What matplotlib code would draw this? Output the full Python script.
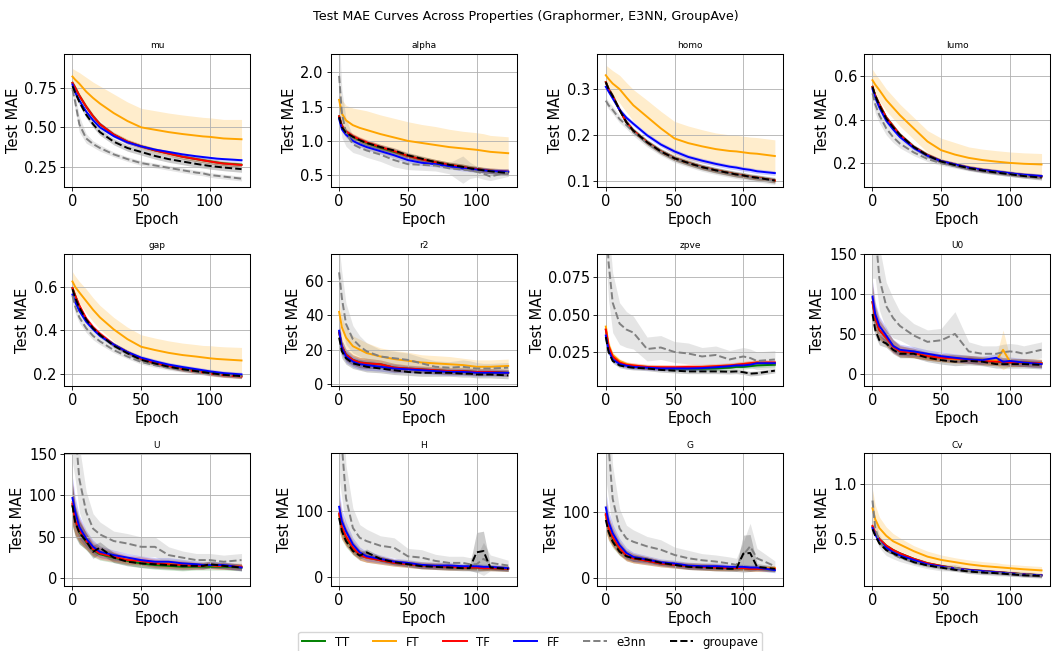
import numpy as np
import matplotlib
matplotlib.use("Agg")
import matplotlib.pyplot as plt

epochs = [0, 2, 5, 10, 15, 20, 30, 40, 50, 60, 70, 80, 90, 95, 100, 105, 110, 123]

series = ["TT", "FT", "TF", "FF", "e3nn", "groupave"]
colors = {"TT": "green", "FT": "orange", "TF": "red", "FF": "blue",
          "e3nn": "gray", "groupave": "black"}
styles = {"TT": "-", "FT": "-", "TF": "-", "FF": "-", "e3nn": "--", "groupave": "--"}

props = ["mu", "alpha", "homo", "lumo", "gap", "r2", "zpve", "U0", "U", "H", "G", "Cv"]

# ---- mu
mu_mean = {
    "TT": [0.78, 0.75, 0.70, 0.63, 0.57, 0.52, 0.455, 0.41, 0.38, 0.355, 0.335, 0.315, 0.30, 0.293, 0.286, 0.279, 0.273, 0.265],
    "FT": [0.82, 0.80, 0.775, 0.725, 0.685, 0.65, 0.59, 0.54, 0.50, 0.485, 0.47, 0.458, 0.448, 0.443, 0.44, 0.435, 0.43, 0.425],
    "TF": [0.78, 0.75, 0.70, 0.63, 0.57, 0.52, 0.455, 0.41, 0.38, 0.355, 0.335, 0.315, 0.30, 0.292, 0.285, 0.278, 0.272, 0.263],
    "FF": [0.77, 0.72, 0.67, 0.60, 0.545, 0.50, 0.445, 0.405, 0.38, 0.36, 0.345, 0.33, 0.318, 0.313, 0.308, 0.303, 0.30, 0.293],
    "e3nn": [0.74, 0.66, 0.52, 0.43, 0.395, 0.37, 0.33, 0.30, 0.275, 0.26, 0.245, 0.23, 0.215, 0.21, 0.20, 0.195, 0.19, 0.177],
    "groupave": [0.76, 0.72, 0.66, 0.58, 0.52, 0.47, 0.41, 0.37, 0.345, 0.32, 0.30, 0.285, 0.27, 0.263, 0.257, 0.252, 0.247, 0.237],
}
mu_std = {
    "TT": 0.015, "TF": 0.015, "FF": 0.01, "groupave": 0.02,
    "FT": [0.05, 0.06, 0.07, 0.09, 0.10, 0.11, 0.12, 0.12, 0.12, 0.12, 0.12, 0.12, 0.12, 0.12, 0.12, 0.12, 0.12, 0.125],
    "e3nn": [0.03, 0.05, 0.05, 0.03, 0.02, 0.02, 0.015, 0.015, 0.015, 0.015, 0.015, 0.015, 0.015, 0.015, 0.015, 0.015, 0.015, 0.015],
}

# ---- alpha
alpha_mean = {
    "TT": [1.36, 1.22, 1.13, 1.06, 1.01, 0.97, 0.90, 0.84, 0.78, 0.73, 0.69, 0.65, 0.62, 0.60, 0.59, 0.575, 0.565, 0.545],
    "FT": [1.60, 1.40, 1.30, 1.23, 1.19, 1.16, 1.10, 1.05, 1.00, 0.97, 0.94, 0.91, 0.89, 0.88, 0.87, 0.855, 0.84, 0.82],
    "TF": [1.36, 1.22, 1.14, 1.07, 1.02, 0.98, 0.91, 0.85, 0.78, 0.73, 0.69, 0.65, 0.62, 0.60, 0.59, 0.575, 0.565, 0.55],
    "FF": [1.32, 1.17, 1.09, 1.00, 0.95, 0.91, 0.85, 0.79, 0.72, 0.68, 0.66, 0.63, 0.60, 0.59, 0.58, 0.57, 0.56, 0.55],
    "e3nn": [1.95, 1.40, 1.12, 0.95, 0.90, 0.86, 0.80, 0.72, 0.66, 0.65, 0.64, 0.60, 0.58, 0.57, 0.55, 0.52, 0.48, 0.54],
    "groupave": [1.35, 1.20, 1.12, 1.06, 1.01, 0.97, 0.91, 0.86, 0.79, 0.74, 0.69, 0.65, 0.62, 0.60, 0.585, 0.57, 0.555, 0.53],
}
alpha_std = {
    "TT": 0.04, "TF": 0.04, "FF": 0.04, "groupave": 0.04,
    "FT": [0.15, 0.20, 0.22, 0.25, 0.27, 0.28, 0.28, 0.28, 0.28, 0.27, 0.27, 0.26, 0.25, 0.25, 0.25, 0.25, 0.24, 0.24],
    "e3nn": [0.6, 0.35, 0.2, 0.12, 0.1, 0.1, 0.1, 0.1, 0.08, 0.08, 0.08, 0.08, 0.2, 0.12, 0.08, 0.08, 0.06, 0.06],
}

# ---- homo
homo_mean = {
    "TT": [0.315, 0.30, 0.285, 0.255, 0.228, 0.21, 0.185, 0.165, 0.15, 0.14, 0.131, 0.124, 0.118, 0.115, 0.113, 0.11, 0.108, 0.102],
    "FT": [0.33, 0.322, 0.312, 0.30, 0.282, 0.265, 0.24, 0.215, 0.193, 0.183, 0.176, 0.17, 0.166, 0.165, 0.163, 0.161, 0.16, 0.155],
    "TF": [0.315, 0.30, 0.285, 0.255, 0.228, 0.21, 0.185, 0.165, 0.15, 0.14, 0.131, 0.124, 0.118, 0.115, 0.113, 0.11, 0.108, 0.102],
    "FF": [0.305, 0.295, 0.28, 0.255, 0.238, 0.225, 0.20, 0.18, 0.165, 0.153, 0.145, 0.138, 0.132, 0.13, 0.127, 0.125, 0.122, 0.118],
    "e3nn": [0.275, 0.265, 0.255, 0.235, 0.222, 0.207, 0.183, 0.164, 0.149, 0.139, 0.13, 0.123, 0.117, 0.114, 0.112, 0.109, 0.107, 0.101],
    "groupave": [0.315, 0.30, 0.285, 0.255, 0.228, 0.21, 0.185, 0.165, 0.15, 0.14, 0.131, 0.124, 0.118, 0.115, 0.113, 0.11, 0.108, 0.102],
}
homo_std = {
    "TT": 0.005, "TF": 0.005, "FF": 0.005, "groupave": 0.006, "e3nn": 0.008,
    "FT": [0.022, 0.025, 0.028, 0.03, 0.032, 0.034, 0.036, 0.037, 0.037, 0.037, 0.036, 0.035, 0.035, 0.035, 0.035, 0.035, 0.035, 0.035],
}

# ---- lumo
lumo_mean = {
    "TT": [0.55, 0.51, 0.47, 0.41, 0.37, 0.33, 0.275, 0.238, 0.21, 0.195, 0.18, 0.17, 0.162, 0.158, 0.154, 0.15, 0.147, 0.14],
    "FT": [0.58, 0.56, 0.535, 0.49, 0.455, 0.42, 0.36, 0.30, 0.26, 0.24, 0.225, 0.215, 0.208, 0.205, 0.202, 0.2, 0.198, 0.195],
    "TF": [0.55, 0.51, 0.47, 0.41, 0.37, 0.33, 0.275, 0.238, 0.21, 0.195, 0.18, 0.17, 0.162, 0.158, 0.154, 0.15, 0.147, 0.14],
    "FF": [0.54, 0.50, 0.455, 0.395, 0.355, 0.32, 0.27, 0.235, 0.21, 0.195, 0.18, 0.17, 0.163, 0.159, 0.155, 0.151, 0.148, 0.142],
    "e3nn": [0.52, 0.47, 0.42, 0.36, 0.32, 0.29, 0.25, 0.22, 0.20, 0.188, 0.175, 0.165, 0.157, 0.153, 0.15, 0.146, 0.143, 0.132],
    "groupave": [0.55, 0.51, 0.465, 0.405, 0.365, 0.33, 0.275, 0.236, 0.208, 0.192, 0.178, 0.167, 0.158, 0.154, 0.15, 0.146, 0.142, 0.135],
}
lumo_std = {
    "TT": 0.01, "TF": 0.01, "FF": 0.01, "groupave": 0.01,
    "FT": [0.05, 0.05, 0.05, 0.05, 0.05, 0.05, 0.05, 0.05, 0.055, 0.055, 0.05, 0.05, 0.05, 0.05, 0.05, 0.05, 0.05, 0.05],
    "e3nn": [0.04, 0.04, 0.035, 0.03, 0.025, 0.02, 0.015, 0.012, 0.01, 0.01, 0.01, 0.01, 0.01, 0.01, 0.01, 0.01, 0.01, 0.01],
}

# ---- gap
gap_mean = {
    "TT": [0.595, 0.56, 0.51, 0.45, 0.41, 0.38, 0.335, 0.30, 0.27, 0.25, 0.237, 0.225, 0.215, 0.21, 0.205, 0.2, 0.197, 0.19],
    "FT": [0.625, 0.60, 0.575, 0.535, 0.495, 0.46, 0.405, 0.36, 0.325, 0.31, 0.297, 0.287, 0.28, 0.276, 0.272, 0.269, 0.267, 0.262],
    "TF": [0.595, 0.56, 0.515, 0.455, 0.415, 0.385, 0.335, 0.30, 0.27, 0.25, 0.235, 0.222, 0.212, 0.207, 0.202, 0.198, 0.194, 0.188],
    "FF": [0.565, 0.53, 0.49, 0.44, 0.405, 0.375, 0.335, 0.30, 0.275, 0.258, 0.243, 0.232, 0.222, 0.217, 0.212, 0.208, 0.204, 0.198],
    "e3nn": [0.56, 0.51, 0.46, 0.41, 0.375, 0.35, 0.31, 0.28, 0.255, 0.24, 0.228, 0.218, 0.21, 0.205, 0.2, 0.197, 0.194, 0.19],
    "groupave": [0.59, 0.55, 0.505, 0.45, 0.41, 0.38, 0.33, 0.295, 0.265, 0.248, 0.233, 0.222, 0.213, 0.208, 0.204, 0.2, 0.196, 0.19],
}
gap_std = {
    "TT": 0.01, "TF": 0.01, "FF": 0.01, "groupave": 0.01,
    "FT": [0.045, 0.05, 0.05, 0.055, 0.055, 0.055, 0.055, 0.055, 0.055, 0.055, 0.055, 0.055, 0.055, 0.055, 0.058, 0.058, 0.058, 0.06],
    "e3nn": [0.03, 0.03, 0.025, 0.02, 0.018, 0.015, 0.012, 0.01, 0.01, 0.01, 0.01, 0.01, 0.01, 0.01, 0.01, 0.01, 0.01, 0.01],
}

# ---- r2
r2_mean = {
    "TT": [30, 22, 17, 14, 12.5, 12, 11.5, 9.5, 9, 8.5, 8, 7.5, 7.5, 7.2, 7, 7, 7, 6.5],
    "FT": [42, 33, 27, 22, 20, 18, 16, 14.5, 13.5, 12.5, 12, 11.5, 11, 10.5, 10, 10, 10, 10.5],
    "TF": [30, 22, 17, 14, 12.5, 12, 11.5, 9.5, 9, 8.5, 8, 7.5, 7.5, 7.2, 7, 7, 7, 6.5],
    "FF": [31, 21, 16, 13, 11.5, 11, 10, 9, 8.5, 8, 7.5, 7, 7, 6.8, 6.5, 6.5, 6.5, 6.5],
    "e3nn": [65, 50, 35, 26, 22, 19, 16, 15, 14, 12, 10, 9.5, 10, 9.5, 9, 9, 9, 9.5],
    "groupave": [27, 19, 15, 12, 11, 10, 9, 8, 7, 6.5, 6.5, 6.5, 6, 6, 5.5, 5.5, 5.5, 5],
}
r2_band = [6, 4, 3.5, 3, 3, 3, 2.5, 2.5, 2, 2, 2, 2, 2, 2, 2, 2, 2, 2]
r2_std = {
    "TT": r2_band, "TF": r2_band, "FF": r2_band, "groupave": r2_band,
    "FT": [6, 6, 6, 6, 6, 6, 5, 5, 5, 4.5, 4.5, 4.5, 4, 4, 4, 4, 4, 4],
    "e3nn": [15, 15, 12, 8, 6, 5, 4, 4, 4, 3.5, 3.5, 3.5, 4, 4, 3.5, 3, 3, 3],
}

# ---- zpve
zpve_mean = {
    "TT": [0.040, 0.028, 0.022, 0.018, 0.0165, 0.0155, 0.0148, 0.0143, 0.0138, 0.0138, 0.0138, 0.014, 0.0145, 0.015, 0.015, 0.0155, 0.016, 0.0165],
    "FT": [0.042, 0.030, 0.023, 0.019, 0.017, 0.016, 0.015, 0.0148, 0.0145, 0.015, 0.015, 0.0155, 0.016, 0.0165, 0.017, 0.0175, 0.018, 0.0175],
    "TF": [0.040, 0.029, 0.022, 0.018, 0.0165, 0.016, 0.015, 0.0148, 0.0148, 0.015, 0.015, 0.0155, 0.016, 0.0165, 0.017, 0.0175, 0.018, 0.018],
    "FF": [0.036, 0.026, 0.020, 0.017, 0.0158, 0.015, 0.0145, 0.014, 0.014, 0.014, 0.0142, 0.0148, 0.0155, 0.016, 0.016, 0.0165, 0.0175, 0.0175],
    "e3nn": [0.12, 0.085, 0.058, 0.044, 0.040, 0.038, 0.027, 0.028, 0.025, 0.024, 0.022, 0.023, 0.02, 0.021, 0.022, 0.021, 0.019, 0.020],
    "groupave": [0.035, 0.025, 0.019, 0.016, 0.015, 0.0145, 0.014, 0.013, 0.0125, 0.012, 0.012, 0.012, 0.0118, 0.012, 0.0115, 0.0105, 0.0108, 0.0125],
}
zpve_std = {
    "TT": 0.0015, "TF": 0.0018, "FF": 0.0015, "groupave": 0.0015,
    "FT": [0.004, 0.003, 0.002, 0.0015, 0.0015, 0.0015, 0.0015, 0.0015, 0.0015, 0.0015, 0.0015, 0.0015, 0.0015, 0.0015, 0.0015, 0.0015, 0.0015, 0.0015],
    "e3nn": [0.03, 0.025, 0.02, 0.014, 0.012, 0.011, 0.008, 0.008, 0.007, 0.007, 0.006, 0.006, 0.006, 0.006, 0.006, 0.006, 0.006, 0.006],
}

# ---- U0
U0_mean = {
    "TT": [90, 70, 55, 45, 35, 28, 26, 22, 20, 19, 18, 16, 15, 15, 14, 14, 14, 13],
    "FT": [95, 72, 58, 45, 35, 30, 25, 22, 20, 18, 18, 17, 16, 30, 15, 14, 14, 13],
    "TF": [90, 70, 55, 45, 34, 28, 26, 22, 20, 19, 18, 16, 15, 15, 14, 14, 14, 13],
    "FF": [97, 75, 60, 48, 35, 30, 28, 25, 22, 20, 18, 17, 20, 15, 16, 15, 14, 12],
    "e3nn": [200, 180, 120, 85, 70, 60, 48, 40, 42, 50, 28, 25, 25, 27, 28, 27, 25, 30],
    "groupave": [75, 55, 42, 38, 30, 25, 25, 20, 17, 15, 16, 15, 12, 12, 12, 12, 12, 11],
}
U0_band = [20, 15, 12, 10, 8, 7, 6, 5, 5, 5, 5, 5, 5, 5, 5, 5, 5, 5]
U0_std = {
    "TT": U0_band, "TF": U0_band, "FF": U0_band,
    "groupave": [10, 8, 6, 5, 5, 5, 5, 5, 5, 5, 5, 5, 5, 5, 5, 5, 5, 5],
    "FT": [20, 15, 12, 10, 8, 6, 5, 5, 5, 5, 5, 5, 5, 25, 5, 5, 5, 5],
    "e3nn": [80, 60, 40, 30, 25, 18, 15, 15, 15, 28, 12, 10, 10, 10, 10, 10, 10, 10],
}

# ---- U
U_mean = {
    "TT": [88, 70, 56, 44, 34, 29, 25, 21, 18, 16, 15, 14, 14, 14, 14, 14, 14, 13],
    "FT": [92, 72, 58, 46, 36, 32, 27, 23, 21, 19, 18, 17, 16, 16, 16, 15, 15, 14],
    "TF": [90, 70, 58, 45, 35, 30, 26, 22, 21, 18, 17, 16, 15, 15, 16, 15, 15, 14],
    "FF": [97, 80, 62, 48, 38, 32, 28, 25, 22, 20, 20, 18, 17, 16, 16, 16, 16, 13],
    "e3nn": [220, 180, 120, 80, 60, 53, 45, 42, 38, 38, 28, 25, 22, 22, 22, 21, 20, 22],
    "groupave": [88, 68, 55, 45, 32, 37, 25, 20, 18, 17, 16, 15, 15, 15, 17, 16, 15, 13],
}
U_band = [25, 18, 14, 10, 8, 7, 6, 5, 5, 5, 5, 5, 4, 4, 4, 4, 4, 4]
U_std = {
    "TT": U_band, "FT": U_band, "TF": U_band, "FF": U_band, "groupave": U_band,
    "e3nn": [80, 60, 40, 25, 18, 15, 12, 12, 12, 12, 10, 8, 8, 8, 8, 8, 8, 8],
}

# ---- H
H_mean = {
    "TT": [95, 75, 60, 44, 34, 30, 26, 22, 20, 18, 17, 16, 15, 15, 15, 14, 14, 13],
    "FT": [95, 76, 62, 46, 35, 30, 27, 23, 21, 19, 18, 17, 16, 16, 16, 15, 15, 14],
    "TF": [97, 76, 62, 45, 34, 30, 26, 22, 20, 18, 17, 16, 15, 15, 15, 14, 14, 13],
    "FF": [107, 85, 70, 50, 38, 32, 28, 24, 22, 19, 18, 18, 17, 17, 17, 16, 16, 14],
    "e3nn": [250, 200, 120, 75, 60, 55, 48, 45, 32, 30, 25, 22, 22, 20, 20, 28, 22, 18],
    "groupave": [90, 70, 55, 40, 33, 38, 28, 23, 20, 17, 16, 15, 14, 14, 38, 40, 15, 13],
}
H_band = [25, 18, 14, 10, 8, 7, 6, 5, 5, 5, 5, 5, 4, 4, 4, 4, 4, 4]
H_std = {
    "TT": H_band, "FT": H_band, "TF": H_band, "FF": H_band,
    "groupave": [10, 8, 6, 5, 5, 5, 4, 4, 4, 4, 4, 4, 4, 4, 30, 30, 4, 4],
    "e3nn": [100, 80, 50, 30, 20, 18, 15, 15, 12, 12, 10, 10, 10, 10, 12, 25, 12, 8],
}

# ---- G
G_mean = {
    "TT": [95, 75, 60, 44, 34, 30, 26, 22, 20, 18, 17, 16, 15, 15, 15, 14, 14, 13],
    "FT": [95, 76, 62, 46, 35, 30, 27, 23, 21, 19, 18, 17, 16, 16, 16, 15, 15, 15],
    "TF": [97, 76, 62, 45, 34, 30, 26, 22, 20, 18, 17, 16, 15, 15, 15, 14, 14, 14],
    "FF": [107, 85, 68, 50, 38, 32, 28, 24, 22, 19, 18, 18, 17, 17, 17, 16, 16, 12],
    "e3nn": [250, 200, 120, 75, 60, 55, 48, 43, 35, 30, 27, 25, 22, 20, 35, 48, 30, 18],
    "groupave": [88, 70, 55, 40, 33, 30, 28, 23, 20, 17, 16, 15, 14, 14, 37, 38, 17, 14],
}
G_band = [25, 18, 14, 10, 8, 7, 6, 5, 5, 5, 5, 5, 4, 4, 4, 4, 4, 4]
G_std = {
    "TT": G_band, "FT": G_band, "TF": G_band, "FF": G_band,
    "groupave": [10, 8, 6, 5, 5, 5, 4, 4, 4, 4, 4, 4, 4, 4, 28, 28, 5, 4],
    "e3nn": [100, 80, 50, 30, 20, 18, 15, 15, 12, 12, 10, 10, 10, 10, 20, 35, 15, 8],
}

# ---- Cv
Cv_mean = {
    "TT": [0.61, 0.55, 0.50, 0.44, 0.40, 0.37, 0.32, 0.28, 0.255, 0.235, 0.22, 0.21, 0.2, 0.195, 0.19, 0.185, 0.18, 0.17],
    "FT": [0.78, 0.68, 0.60, 0.53, 0.48, 0.45, 0.39, 0.34, 0.31, 0.29, 0.27, 0.255, 0.245, 0.24, 0.235, 0.23, 0.225, 0.215],
    "TF": [0.62, 0.56, 0.50, 0.44, 0.40, 0.37, 0.32, 0.28, 0.255, 0.235, 0.22, 0.21, 0.2, 0.195, 0.19, 0.185, 0.18, 0.17],
    "FF": [0.60, 0.54, 0.48, 0.42, 0.38, 0.35, 0.31, 0.27, 0.25, 0.232, 0.218, 0.208, 0.198, 0.193, 0.188, 0.183, 0.178, 0.17],
    "e3nn": [0.85, 0.60, 0.48, 0.40, 0.36, 0.33, 0.29, 0.26, 0.24, 0.24, 0.21, 0.20, 0.19, 0.188, 0.185, 0.182, 0.18, 0.165],
    "groupave": [0.59, 0.53, 0.46, 0.40, 0.37, 0.34, 0.29, 0.26, 0.24, 0.22, 0.205, 0.195, 0.19, 0.185, 0.18, 0.175, 0.17, 0.165],
}
Cv_std = {
    "TT": 0.015, "TF": 0.015, "FF": 0.015, "groupave": 0.015,
    "FT": [0.17, 0.13, 0.1, 0.08, 0.07, 0.06, 0.05, 0.05, 0.045, 0.04, 0.04, 0.04, 0.04, 0.035, 0.035, 0.035, 0.035, 0.035],
    "e3nn": [0.1, 0.08, 0.06, 0.05, 0.04, 0.035, 0.03, 0.03, 0.03, 0.03, 0.025, 0.025, 0.025, 0.025, 0.025, 0.025, 0.025, 0.025],
}

means = {"mu": mu_mean, "alpha": alpha_mean, "homo": homo_mean, "lumo": lumo_mean,
         "gap": gap_mean, "r2": r2_mean, "zpve": zpve_mean, "U0": U0_mean,
         "U": U_mean, "H": H_mean, "G": G_mean, "Cv": Cv_mean}
stds = {"mu": mu_std, "alpha": alpha_std, "homo": homo_std, "lumo": lumo_std,
        "gap": gap_std, "r2": r2_std, "zpve": zpve_std, "U0": U0_std,
        "U": U_std, "H": H_std, "G": G_std, "Cv": Cv_std}

ylims = {"mu": (0.126, 0.962), "alpha": (0.33, 2.27), "homo": (0.0885, 0.376),
         "lumo": (0.093, 0.70), "gap": (0.143, 0.753), "r2": (-1.4, 75.9),
         "zpve": (0.002, 0.0908), "U0": (-16, 151), "U": (-9.3, 151),
         "H": (-13, 188), "G": (-12, 189), "Cv": (0.073, 1.28)}
yticks = {"mu": [0.25, 0.5, 0.75], "alpha": [0.5, 1.0, 1.5, 2.0], "homo": [0.1, 0.2, 0.3],
          "lumo": [0.2, 0.4, 0.6], "gap": [0.2, 0.4, 0.6], "r2": [0, 20, 40, 60],
          "zpve": [0.025, 0.050, 0.075], "U0": [0, 50, 100, 150], "U": [0, 50, 100, 150],
          "H": [0, 100], "G": [0, 100], "Cv": [0.5, 1.0]}

fig, axes = plt.subplots(3, 4, figsize=(10.52, 6.51), dpi=100)
plt.subplots_adjust(left=64 / 1052, right=1050 / 1052, top=1 - 54 / 651,
                    bottom=1 - 586 / 651, wspace=0.434, hspace=0.504)

x = np.array(epochs)
for ax, p in zip(axes.flat, props):
    for s in series:
        m = np.array(means[p][s], dtype=float)
        sd = np.broadcast_to(np.array(stds[p][s], dtype=float), m.shape)
        ax.fill_between(x, m - sd, m + sd, color=colors[s], alpha=0.2, linewidth=0)
        ax.plot(x, m, color=colors[s], linestyle=styles[s], linewidth=1.4, label=s)
    ax.set_title(p, fontsize=6.5, pad=4)
    ax.set_xlabel("Epoch", fontsize=10.5, labelpad=2)
    ax.set_ylabel("Test MAE", fontsize=10.5, labelpad=2.5)
    ax.set_ylim(*ylims[p])
    ax.set_yticks(yticks[p])
    ax.set_xticks([0, 50, 100])
    ax.tick_params(labelsize=10.5, length=2.6, pad=2.5, width=0.6)
    ax.grid(True, linewidth=0.6)
    for sp in ax.spines.values():
        sp.set_linewidth(0.75)

handles, labels = axes[0, 0].get_legend_handles_labels()
fig.legend(handles, labels, loc="upper center", bbox_to_anchor=(0.504, 1 - 632 / 651),
           borderaxespad=0, ncol=6, fontsize=8.5, borderpad=0.3)
fig.suptitle("Test MAE Curves Across Properties (Graphormer, E3NN, GroupAve)",
             fontsize=9.2, y=0.985)

plt.savefig("out.png", dpi=100)
